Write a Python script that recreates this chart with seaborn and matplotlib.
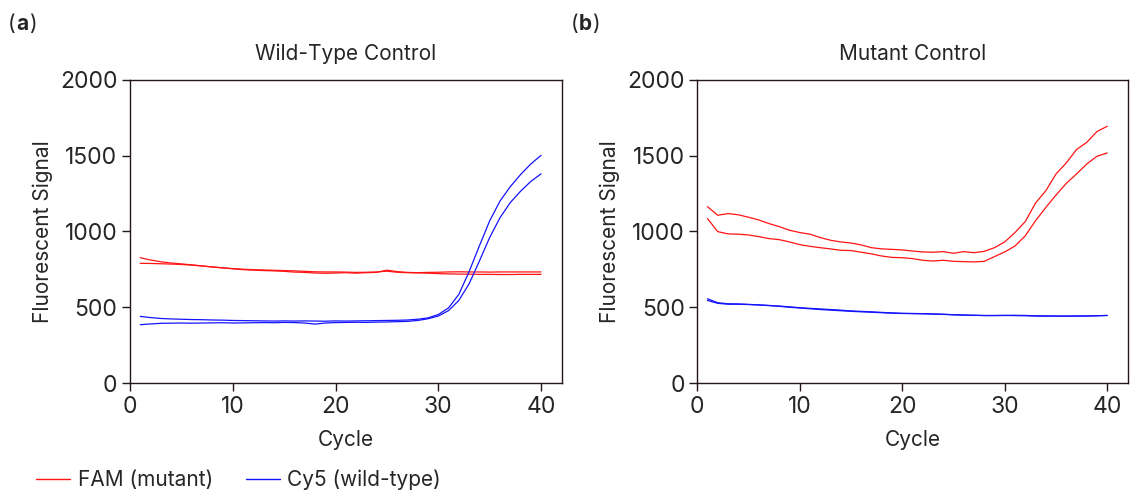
import matplotlib
matplotlib.use("Agg")
import matplotlib.pyplot as plt
import numpy as np
import pandas as pd
import seaborn as sns
from matplotlib.lines import Line2D

cycles = list(range(1, 41))

# (a) Wild-Type Control
wt_fam_1 = [827, 812, 800, 792, 786, 780, 773, 766, 760, 755, 751, 748, 746, 744, 742, 740, 737, 734, 733, 733,
            732, 730, 731, 733, 738, 731, 728, 727, 725, 722, 720, 719, 718, 717, 717, 716, 716, 717, 717, 717]
wt_fam_2 = [790, 789, 787, 785, 782, 778, 772, 766, 760, 754, 748, 745, 742, 740, 737, 732, 730, 726, 724, 726,
            728, 725, 728, 730, 745, 735, 730, 728, 730, 731, 733, 734, 733, 733, 732, 733, 733, 733, 733, 733]
wt_cy5_1 = [440, 432, 426, 423, 421, 419, 418, 416, 415, 413, 412, 411, 410, 409, 410, 409, 410, 409, 408, 410,
            409, 410, 411, 412, 413, 414, 416, 421, 430, 452, 496, 585, 735, 905, 1070, 1200, 1295, 1375, 1445, 1502]
wt_cy5_2 = [385, 390, 394, 395, 396, 395, 396, 397, 398, 396, 397, 398, 399, 398, 400, 399, 396, 389, 396, 399,
            400, 401, 400, 402, 403, 405, 407, 413, 424, 442, 478, 545, 655, 805, 960, 1090, 1190, 1265, 1330, 1380]

# (b) Mutant Control
mut_fam_1 = [1164, 1107, 1118, 1110, 1094, 1076, 1052, 1032, 1008, 993, 982, 960, 942, 931, 924, 911, 893, 885, 882, 878,
             871, 865, 863, 867, 856, 867, 860, 869, 893, 931, 993, 1065, 1187, 1268, 1379, 1452, 1540, 1588, 1659, 1694]
mut_fam_2 = [1085, 999, 984, 982, 977, 966, 953, 946, 931, 913, 902, 893, 885, 876, 874, 863, 852, 838, 829, 827,
             821, 810, 805, 810, 803, 801, 799, 803, 834, 865, 904, 971, 1070, 1158, 1240, 1317, 1379, 1445, 1496, 1518]
mut_cy5_1 = [556, 530, 523, 522, 519, 516, 512, 508, 503, 497, 493, 489, 485, 481, 476, 473, 470, 466, 463, 460,
             459, 458, 456, 454, 451, 449, 447, 446, 446, 446, 447, 446, 444, 443, 442, 442, 443, 443, 444, 446]
mut_cy5_2 = [545, 526, 520, 520, 518, 515, 511, 506, 500, 495, 490, 485, 481, 477, 473, 470, 467, 464, 461, 459,
             458, 457, 455, 453, 450, 448, 447, 445, 445, 446, 445, 444, 442, 441, 442, 441, 441, 442, 444, 446]

dye_labels = ["FAM (mutant)", "Cy5 (wild-type)"]
palette = {"FAM (mutant)": "#ff1414", "Cy5 (wild-type)": "#1414ff"}


def make_frame(fam_runs, cy5_runs):
    rows = []
    for dye, runs in zip(dye_labels, [fam_runs, cy5_runs]):
        for k, run in enumerate(runs):
            for c, v in zip(cycles, run):
                rows.append({"cycle": c, "signal": v, "dye": dye, "well": f"{dye}_{k}"})
    return pd.DataFrame(rows)


sns.set_style("ticks")
plt.rcParams["font.family"] = ["Inter", "DejaVu Sans"]
plt.rcParams["font.size"] = 14

fig = plt.figure(figsize=(11.3, 4.93), dpi=100)
ax_a = fig.add_axes([0.115, 0.223, 0.382, 0.615])
ax_b = fig.add_axes([0.617, 0.223, 0.381, 0.615])

panels = [
    (ax_a, make_frame([wt_fam_1, wt_fam_2], [wt_cy5_1, wt_cy5_2]), "Wild-Type Control"),
    (ax_b, make_frame([mut_fam_1, mut_fam_2], [mut_cy5_1, mut_cy5_2]), "Mutant Control"),
]

for ax, df, title in panels:
    sns.lineplot(data=df, x="cycle", y="signal", hue="dye", units="well", estimator=None,
                 palette=palette, linewidth=0.9, legend=False, ax=ax)
    ax.set_xlim(0, 42)
    ax.set_ylim(0, 2000)
    ax.set_xticks([0, 10, 20, 30, 40])
    ax.set_yticks([0, 500, 1000, 1500, 2000])
    ax.set_xlabel("Cycle", fontsize=15, labelpad=9)
    ax.set_ylabel("Fluorescent Signal", fontsize=15, labelpad=5)
    ax.set_title(title, fontsize=15, pad=14)
    ax.tick_params(axis="both", labelsize=16.5, length=5.5, width=1, color="#231815", pad=3.5)
    for sp in ax.spines.values():
        sp.set_visible(True)
        sp.set_color("#231815")
        sp.set_linewidth(1)

for x0, tag in [(0.007, "a"), (0.505, "b")]:
    fig.text(x0, 0.94, "(", fontsize=15)
    fig.text(x0 + 0.007, 0.94, tag, fontsize=15, fontweight="bold")
    fig.text(x0 + 0.019, 0.94, ")", fontsize=15)

handles = [Line2D([], [], color=palette[d], linewidth=1) for d in dye_labels]
fig.legend(handles, dye_labels, loc="center left", bbox_to_anchor=(0.032, 0.026), ncol=2,
           frameon=False, fontsize=15, handlelength=1.63, handletextpad=0.38, columnspacing=1.55,
           borderaxespad=0, borderpad=0)

fig.savefig("out.png", dpi=100)
